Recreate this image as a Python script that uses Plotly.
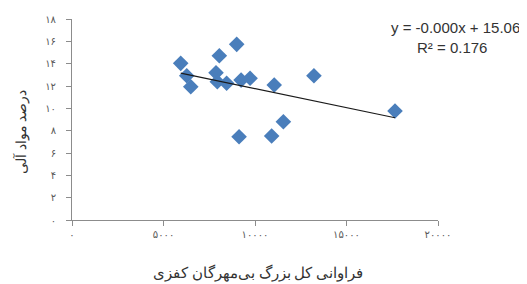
import numpy as np
import plotly.graph_objects as go

# Data
abundance = [5940, 6270, 6490, 8050, 9000, 7870, 7940, 8450, 9240, 9730,
             11050, 13220, 17650, 11550, 9130, 10910]
organic = [14.03, 12.92, 11.93, 14.71, 15.73, 13.19, 12.38, 12.24, 12.53, 12.69,
           12.09, 12.92, 9.76, 8.80, 7.46, 7.52]

x_ticks = [0, 5000, 10000, 15000, 20000]
x_ticklabels = ["۰", "۵۰۰۰", "۱۰۰۰۰", "۱۵۰۰۰", "۲۰۰۰۰"]
y_ticks = [0, 2, 4, 6, 8, 10, 12, 14, 16, 18]
y_ticklabels = ["۰", "۲", "۴", "۶", "۸", "۱۰", "۱۲", "۱۴", "۱۶", "۱۸"]

x_title = "فراوانی کل بزرگ بی‌مهرگان کفزی"
y_title = "درصد مواد آلی"
eq_text = "y = -0.000x + 15.06"
r2_text = "R² = 0.176"

xa = np.array(abundance, dtype=float)
ya = np.array(organic, dtype=float)
slope, intercept = np.polyfit(xa, ya, 1)
tx = np.array([xa.min(), xa.max()])
ty = slope * tx + intercept

fig = go.Figure()
fig.add_trace(go.Scatter(
    x=abundance, y=organic, mode="markers",
    marker=dict(symbol="diamond", size=12, color="#4A7EBB",
                line=dict(width=0)),
    showlegend=False, cliponaxis=False,
))
fig.add_trace(go.Scatter(
    x=tx, y=ty, mode="lines",
    line=dict(color="#1a1a1a", width=1.2),
    showlegend=False,
))

axis_common = dict(
    showgrid=False, zeroline=False, showline=True, linecolor="#8C8C8C",
    linewidth=1, ticks="outside", tickcolor="#8C8C8C", ticklen=5,
    tickfont=dict(size=10, color="#595959", family="DejaVu Sans"),
    automargin=False,
)
fig.update_xaxes(range=[0, 20000], tickmode="array", tickvals=x_ticks,
                 ticktext=x_ticklabels, **axis_common)
fig.update_yaxes(range=[0, 18], tickmode="array", tickvals=y_ticks,
                 ticktext=y_ticklabels, ticklabelstandoff=8, **axis_common)

# plot area in window pixels: x 72..438, y 19..220
def px(wx):
    return (wx - 72) / 366

def py(wy):
    return (220 - wy) / 201

ann_common = dict(xref="paper", yref="paper", showarrow=False,
                  xanchor="center", yanchor="middle")
fig.add_annotation(x=px(455), y=py(27), text=eq_text,
                   font=dict(size=15, color="#333", family="Liberation Sans"),
                   **ann_common)
fig.add_annotation(x=px(452), y=py(47), text=r2_text,
                   font=dict(size=15, color="#333", family="Liberation Sans"),
                   **ann_common)
fig.add_annotation(x=px(258), y=py(272), text=x_title,
                   font=dict(size=14.5, color="#333", family="Noto Sans"),
                   **ann_common)
fig.add_annotation(x=px(20), y=py(132), text=y_title, textangle=-90,
                   font=dict(size=14, color="#333", family="Noto Sans"),
                   **ann_common)

# page body has an 8px margin, so the figure is offset by 8px
fig.update_layout(
    width=519, height=276,
    margin=dict(l=64, r=89, t=11, b=64, autoexpand=False),
    paper_bgcolor="white", plot_bgcolor="white",
)

fig.write_html("out.html")
